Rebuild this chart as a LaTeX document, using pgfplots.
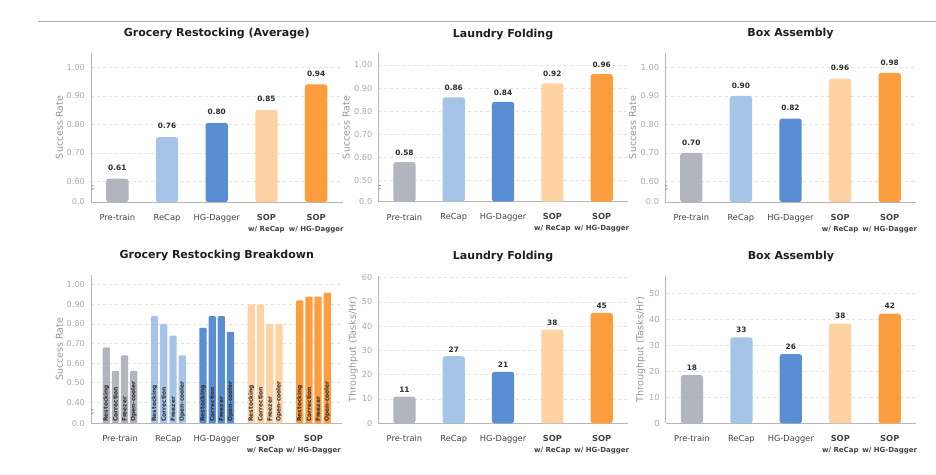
\documentclass[border=0pt]{standalone}
\usepackage{pgfplots}
\pgfplotsset{compat=1.18}
\usepackage{fontspec}
\setmainfont{DejaVu Sans}

\definecolor{cPre}{RGB}{178,181,189}
\definecolor{cRecap}{RGB}{166,196,232}
\definecolor{cHG}{RGB}{90,142,212}
\definecolor{cSopR}{RGB}{254,210,162}
\definecolor{cSopH}{RGB}{254,157,62}
\definecolor{tickgray}{RGB}{170,170,170}
\definecolor{labgray}{RGB}{150,150,150}
\definecolor{spinegray}{RGB}{182,182,182}
\definecolor{gridgray}{RGB}{226,226,226}
\definecolor{txtdark}{RGB}{45,45,45}

\tikzset{brk/.style={black!45, line width=0.7pt}}

\pgfplotsset{
  panel/.style={
    scale only axis,
    anchor=south west,
    axis lines*=left,
    axis line style={draw=spinegray, line width=0.9pt},
    major tick length=0pt,
    ymajorgrids,
    grid style={dashed, gridgray, line width=0.6pt},
    /pgf/number format/assume math mode=true,
    yticklabel style={font=\fontsize{8.2}{10}\selectfont, text=tickgray, xshift=-2.5pt},
    xticklabel style={font=\fontsize{8.3}{11}\selectfont, text=txtdark!90, align=center, yshift=-8.5pt},
    title style={font=\fontsize{11}{13}\selectfont\bfseries, text=black!88,
      at={(axis description cs:0.5,1)}, anchor=base, yshift=10pt},
    xtick={0,1,2,3,4},
    xticklabels={Pre-train, ReCap, HG-Dagger,
      {\textbf{SOP}\\{\fontsize{7}{7}\selectfont\bfseries w/ ReCap}},
      {\textbf{SOP}\\{\fontsize{7}{7}\selectfont\bfseries w/ HG-Dagger}}},
  },
  ylab/.style={every axis y label/.style={at={(axis description cs:#1,0.5)}, rotate=90,
      anchor=center, font=\fontsize{9.5}{11}\selectfont, text=labgray}},
  vlab/.style={every node near coord/.append style={font=\fontsize{7.4}{9}\selectfont\bfseries,
      text=txtdark, inner sep=0pt, anchor=south, yshift=#1}},
  onebar/.style={ybar, bar width=0.45, bar shift=0pt, draw=none, fill=#1,
    rounded corners=2.5pt, nodes near coords, point meta=explicit symbolic},
  subbar/.style={ybar, bar width=0.15, bar shift=0pt, draw=none, fill=#1, rounded corners=1pt},
}

\begin{document}
\begin{tikzpicture}
\useasboundingbox (0,0) rectangle (936pt,474pt);
\draw[gray!65, line width=0.8pt] (38pt,452.7pt) -- (936pt,452.7pt);

% ---------- row 1: success rate ----------
\begin{axis}[panel, at={(91pt,272pt)}, width=251.5pt, height=149pt,
  xmin=-0.53, xmax=4.53, ymin=0.528, ymax=1.05,
  ytick={0.528,0.6,0.7,0.8,0.9,1.0}, yticklabels={0.0,0.60,0.70,0.80,0.90,1.00},
  ylabel={Success Rate}, ylab=-0.126, vlab=7.9pt,
  title={Grocery Restocking (Average)}]
\addplot[onebar=cPre]   coordinates {(0,0.61) [0.61]};
\addplot[onebar=cRecap] coordinates {(1,0.755) [0.76]};
\addplot[onebar=cHG]    coordinates {(2,0.805) [0.80]};
\addplot[onebar=cSopR]  coordinates {(3,0.85) [0.85]};
\addplot[onebar=cSopH]  coordinates {(4,0.94) [0.94]};
\draw[brk] (rel axis cs:0,0.094) ++(-4pt,-4.5pt) -- ++(6.5pt,4.2pt);
\draw[brk] (rel axis cs:0,0.094) ++(-4pt,-1.3pt) -- ++(6.5pt,4.2pt);
\end{axis}

\begin{axis}[panel, at={(378.3pt,272.3pt)}, width=249.5pt, height=148.4pt,
  xmin=-0.53, xmax=4.53, ymin=0.409, ymax=1.05,
  ytick={0.409,0.5,0.6,0.7,0.8,0.9,1.0}, yticklabels={0.0,0.50,0.60,0.70,0.80,0.90,1.00},
  ylabel={Success Rate}, ylab=-0.129, vlab=6.5pt,
  title={Laundry Folding}]
\addplot[onebar=cPre]   coordinates {(0,0.58) [0.58]};
\addplot[onebar=cRecap] coordinates {(1,0.86) [0.86]};
\addplot[onebar=cHG]    coordinates {(2,0.84) [0.84]};
\addplot[onebar=cSopR]  coordinates {(3,0.92) [0.92]};
\addplot[onebar=cSopH]  coordinates {(4,0.96) [0.96]};
\draw[brk] (rel axis cs:0,0.094) ++(-4pt,-4.5pt) -- ++(6.5pt,4.2pt);
\draw[brk] (rel axis cs:0,0.094) ++(-4pt,-1.3pt) -- ++(6.5pt,4.2pt);
\end{axis}

\begin{axis}[panel, at={(665pt,272pt)}, width=251pt, height=149pt,
  xmin=-0.53, xmax=4.53, ymin=0.528, ymax=1.05,
  ytick={0.528,0.6,0.7,0.8,0.9,1.0}, yticklabels={0.0,0.60,0.70,0.80,0.90,1.00},
  ylabel={Success Rate}, ylab=-0.129, vlab=7.5pt,
  title={Box Assembly}]
\addplot[onebar=cPre]   coordinates {(0,0.70) [0.70]};
\addplot[onebar=cRecap] coordinates {(1,0.90) [0.90]};
\addplot[onebar=cHG]    coordinates {(2,0.82) [0.82]};
\addplot[onebar=cSopR]  coordinates {(3,0.96) [0.96]};
\addplot[onebar=cSopH]  coordinates {(4,0.98) [0.98]};
\draw[brk] (rel axis cs:0,0.094) ++(-4pt,-4.5pt) -- ++(6.5pt,4.2pt);
\draw[brk] (rel axis cs:0,0.094) ++(-4pt,-1.3pt) -- ++(6.5pt,4.2pt);
\end{axis}

% ---------- row 2 ----------
\begin{axis}[panel, at={(91pt,50.7pt)}, width=251.5pt, height=148.3pt,
  xmin=-0.6, xmax=4.6, ymin=0.293, ymax=1.05,
  ytick={0.293,0.4,0.5,0.6,0.7,0.8,0.9,1.0},
  yticklabels={0.0,0.40,0.50,0.60,0.70,0.80,0.90,1.00},
  ylabel={Success Rate}, ylab=-0.126,
  title={Grocery Restocking Breakdown}]
% restocking, correction, freezer, open-cooler
\addplot[subbar=cPre]   coordinates {(-0.285,0.68) (-0.095,0.56) (0.095,0.64) (0.285,0.56)};
\addplot[subbar=cRecap] coordinates {(0.715,0.84) (0.905,0.80) (1.095,0.74) (1.285,0.64)};
\addplot[subbar=cHG]    coordinates {(1.715,0.78) (1.905,0.84) (2.095,0.84) (2.285,0.76)};
\addplot[subbar=cSopR]  coordinates {(2.715,0.90) (2.905,0.90) (3.095,0.80) (3.285,0.80)};
\addplot[subbar=cSopH]  coordinates {(3.715,0.92) (3.905,0.94) (4.095,0.94) (4.285,0.96)};
\addplot[draw=none, mark=none, nodes near coords, point meta=explicit symbolic,
  nodes near coords align={anchor=west},
  every node near coord/.append style={rotate=90, anchor=west, inner sep=1.5pt,
    font=\fontsize{5.9}{7}\selectfont\bfseries, text=txtdark}]
  coordinates {
  (-0.285,0.293) [Restocking] (-0.095,0.293) [Correction] (0.095,0.293) [Freezer] (0.285,0.293) [Open-cooler]
  (0.715,0.293) [Restocking] (0.905,0.293) [Correction] (1.095,0.293) [Freezer] (1.285,0.293) [Open-cooler]
  (1.715,0.293) [Restocking] (1.905,0.293) [Correction] (2.095,0.293) [Freezer] (2.285,0.293) [Open-cooler]
  (2.715,0.293) [Restocking] (2.905,0.293) [Correction] (3.095,0.293) [Freezer] (3.285,0.293) [Open-cooler]
  (3.715,0.293) [Restocking] (3.905,0.293) [Correction] (4.095,0.293) [Freezer] (4.285,0.293) [Open-cooler]
  };
\draw[brk] (rel axis cs:0,0.076) ++(-4pt,-4.5pt) -- ++(6.5pt,4.2pt);
\draw[brk] (rel axis cs:0,0.076) ++(-4pt,-1.3pt) -- ++(6.5pt,4.2pt);
\end{axis}

\begin{axis}[panel, at={(378.3pt,50.7pt)}, width=249.5pt, height=147.6pt,
  xmin=-0.53, xmax=4.53, ymin=0, ymax=60.75,
  ytick={0,10,20,30,40,50,60},
  ylabel={Throughput (Tasks/Hr)}, ylab=-0.100, vlab=4.0pt,
  title={Laundry Folding}]
\addplot[onebar=cPre]   coordinates {(0,11.0) [11]};
\addplot[onebar=cRecap] coordinates {(1,27.6) [27]};
\addplot[onebar=cHG]    coordinates {(2,21.2) [21]};
\addplot[onebar=cSopR]  coordinates {(3,38.6) [38]};
\addplot[onebar=cSopH]  coordinates {(4,45.4) [45]};
\end{axis}

\begin{axis}[panel, at={(665.7pt,50.7pt)}, width=250.3pt, height=147.6pt,
  xmin=-0.53, xmax=4.53, ymin=0, ymax=56.7,
  ytick={0,10,20,30,40,50},
  ylabel={Throughput (Tasks/Hr)}, ylab=-0.100, vlab=4.6pt,
  title={Box Assembly}]
\addplot[onebar=cPre]   coordinates {(0,18.5) [18]};
\addplot[onebar=cRecap] coordinates {(1,33.0) [33]};
\addplot[onebar=cHG]    coordinates {(2,26.6) [26]};
\addplot[onebar=cSopR]  coordinates {(3,38.3) [38]};
\addplot[onebar=cSopH]  coordinates {(4,42.1) [42]};
\end{axis}
\end{tikzpicture}
\end{document}
